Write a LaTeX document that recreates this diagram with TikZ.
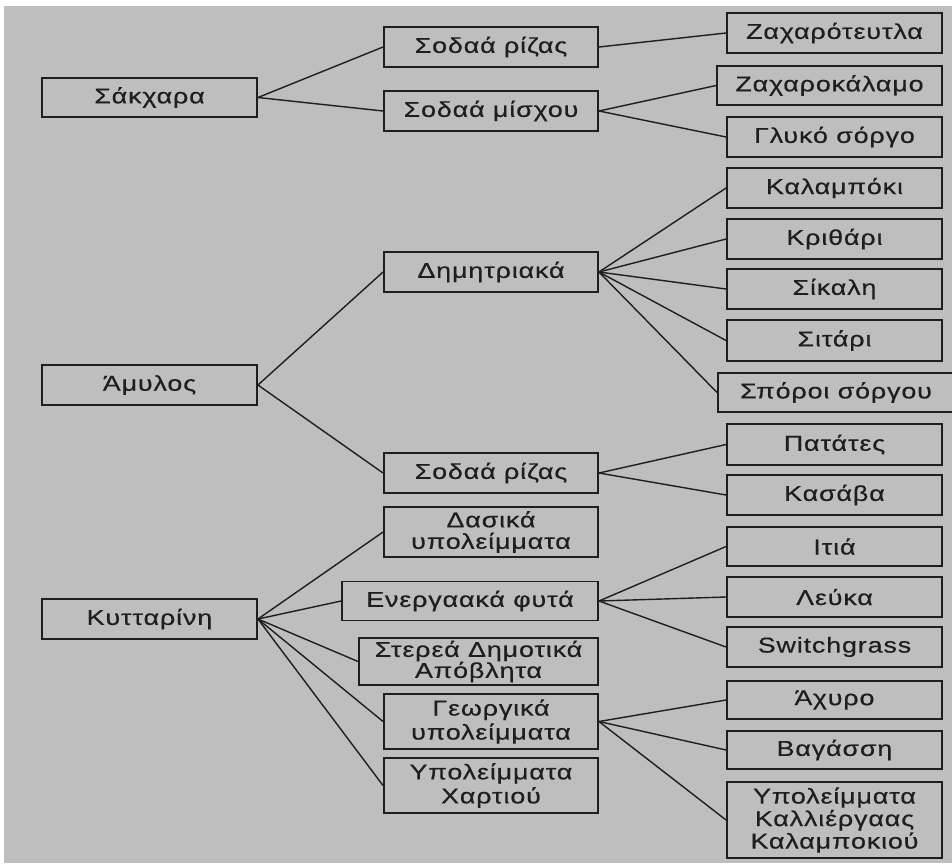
\documentclass[tikz,border=0pt]{standalone}
\usepackage{fontspec}
\setmainfont{Liberation Sans}[FakeStretch=1.25,LetterSpace=4,FakeBold=0.4]
\definecolor{bggray}{HTML}{BEBEBE}
\definecolor{ink}{HTML}{1E1E1E}
\tikzset{
  box/.style={draw=ink, line width=1.9pt, inner sep=0pt, align=center, text=ink,
    font=\fontsize{21.5}{20}\selectfont, minimum width=#1},
  box/.default=215pt,
  link/.style={draw=ink, line width=1.4pt},
}
\begin{document}
\begin{tikzpicture}[x=1pt,y=-1pt]
\useasboundingbox (0,0) rectangle (952,863);
\fill[white] (0,0) rectangle (952,863);
\fill[bggray] (4,6) rectangle (952,863);
% column 1
\node[box, minimum height=39pt] (sak) at (149.5,97.5) {Σάκχαρα};
\node[box, minimum height=40pt] (amy) at (149.5,385) {Άμυλος};
\node[box, minimum height=40pt] (kyt) at (149.5,619) {Κυτταρίνη};
% column 2
\node[box=214pt, minimum height=40pt] (sr1) at (491,47) {Σοδαά ρίζας};
\node[box=214pt, minimum height=40pt] (sm) at (491,111) {Σοδαά μίσχου};
\node[box=214pt, minimum height=40pt] (dim) at (491,272) {Δημητριακά};
\node[box=214pt, minimum height=40pt] (sr2) at (491,473) {Σοδαά ρίζας};
\node[box=214pt, minimum height=50pt, font=\fontsize{21.5}{21.5}\selectfont] (das) at (491,532) {Δασικά\\υπολείμματα};
\node[box=256pt, minimum height=39pt] (ene) at (470,601) {Ενεργαακά φυτά};
\node[box=239pt, minimum height=47pt, font=\fontsize{21.5}{21}\selectfont] (ste) at (478.5,661.5) {Στερεά Δημοτικά\\Απόβλητα};
\node[box=214pt, minimum height=55pt, font=\fontsize{21.5}{24}\selectfont] (geo) at (491,721.5) {Γεωργικά\\υπολείμματα};
\node[box=214pt, minimum height=55pt, font=\fontsize{21.5}{24}\selectfont] (ypx) at (491,785.5) {Υπολείμματα\\Χαρτιού};
% column 3
\node[box, minimum height=40pt] (zt) at (834.5,33) {Ζαχαρότευτλα};
\node[box=225pt, minimum height=39pt] (zk) at (829.5,85.5) {Ζαχαροκάλαμο};
\node[box, minimum height=40pt] (gs) at (834.5,137) {Γλυκό σόργο};
\node[box, minimum height=40pt] (kal) at (834.5,188) {Καλαμπόκι};
\node[box, minimum height=40pt] (kri) at (834.5,239) {Κριθάρι};
\node[box, minimum height=40pt] (sik) at (834.5,289) {Σίκαλη};
\node[box, minimum height=41pt] (sit) at (834.5,340.5) {Σιτάρι};
\node[box=236pt, minimum height=39pt] (sps) at (836,392.5) {Σπόροι σόργου};
\node[box, minimum height=41pt] (pat) at (834.5,444.5) {Πατάτες};
\node[box, minimum height=40pt] (kas) at (834.5,495) {Κασάβα};
\node[box, minimum height=39pt] (iti) at (834.5,546.5) {Ιτιά};
\node[box, minimum height=40pt] (lef) at (834.5,597) {Λεύκα};
\node[box, minimum height=40pt] (swi) at (834.5,647) {Switchgrass};
\node[box, minimum height=38pt] (ach) at (834.5,700) {Άχυρο};
\node[box, minimum height=38pt] (vag) at (834.5,750) {Βαγάσση};
\node[box, minimum height=76pt, font=\fontsize{21.5}{22.5}\selectfont] (ykk) at (834.5,820) {Υπολείμματα\\Καλλιέργαας\\Καλαμποκιού};
% connectors
\foreach \a/\b in {sak/sr1, sak/sm, sr1/zt, sm/zk, sm/gs,
  amy/dim, amy/sr2, dim/kal, dim/kri, dim/sik, dim/sit, dim/sps,
  sr2/pat, sr2/kas, kyt/das, kyt/ene, kyt/ste, kyt/geo, kyt/ypx,
  ene/iti, ene/lef, ene/swi, geo/ach, geo/vag, geo/ykk}
  \draw[link] (\a.east) -- (\b.west);
\end{tikzpicture}
\end{document}
